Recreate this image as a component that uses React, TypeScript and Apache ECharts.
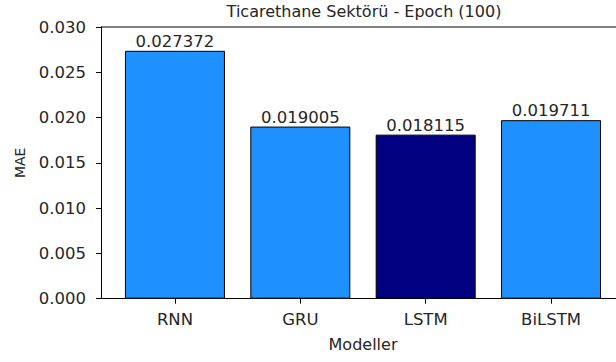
import React, { useEffect, useRef } from "react";
import * as echarts from "echarts";

const categories = ["RNN", "GRU", "LSTM", "BiLSTM"];
const maeValues = [0.027372, 0.019005, 0.018115, 0.019711];
const barColors = ["#1E90FF", "#1E90FF", "#000080", "#1E90FF"];
const yTicks = [0, 0.005, 0.01, 0.015, 0.02, 0.025, 0.03];
const titleText = "Ticarethane Sektörü - Epoch (100)";

const FONT = "DejaVu Sans";
const X_MIN = -0.59;
const X_MAX = 3.59;
const GRID_LEFT = 101;
const GRID_TOP = 27;
const GRID_W = 524;
const GRID_H = 271.7;

export default function App() {
  const ref = useRef<HTMLDivElement>(null);
  useEffect(() => {
    if (!ref.current) return;
    const chart = echarts.init(ref.current, null, { renderer: "svg" });
    chart.setOption({
      animation: false,
      backgroundColor: "#ffffff",
      title: {
        text: titleText,
        left: 359,
        textAlign: "center",
        top: -2,
        textStyle: { fontFamily: FONT, fontSize: 16, fontWeight: "normal", color: "#262626" },
      },
      grid: {
        left: GRID_LEFT,
        top: GRID_TOP,
        width: GRID_W,
        height: GRID_H,
        show: false,
        outerBoundsMode: "none",
        containLabel: false,
      },
      graphic: [
        {
          type: "line",
          shape: { x1: GRID_LEFT, y1: GRID_TOP, x2: GRID_LEFT + GRID_W, y2: GRID_TOP },
          style: { stroke: "#000", lineWidth: 1 },
          z: 10,
        },
      ],
      xAxis: {
        type: "value",
        min: X_MIN,
        max: X_MAX,
        name: "Modeller",
        nameLocation: "middle",
        nameGap: 38,
        nameTextStyle: { fontFamily: FONT, fontSize: 16, color: "#262626" },
        axisLine: { show: true, onZero: false, lineStyle: { color: "#000", width: 1 } },
        axisTick: { show: true, length: 5, lineStyle: { color: "#000", width: 1 }, customValues: [0, 1, 2, 3] },
        axisLabel: {
          customValues: [0, 1, 2, 3],
          formatter: (v: number) => categories[Math.round(v)] ?? "",
          fontFamily: FONT,
          fontSize: 16.5,
          color: "#262626",
          margin: 12,
        },
        splitLine: { show: false },
      },
      yAxis: {
        type: "value",
        min: 0,
        max: yTicks[yTicks.length - 1],
        interval: 0.005,
        name: "MAE",
        nameLocation: "middle",
        nameGap: 74,
        nameTextStyle: { fontFamily: FONT, fontSize: 14, color: "#262626" },
        axisLine: { show: true, onZero: false, lineStyle: { color: "#000", width: 1 } },
        axisTick: { show: true, length: 5, lineStyle: { color: "#000" } },
        axisLabel: {
          formatter: (v: number) => v.toFixed(3),
          fontFamily: FONT,
          fontSize: 16.5,
          color: "#262626",
          margin: 15,
        },
        splitLine: { show: false },
      },
      series: [
        {
          type: "bar",
          barWidth: 100,
          data: maeValues.map((v, i) => ({
            value: [i, v],
            itemStyle: { color: barColors[i], borderColor: "#000", borderWidth: 1 },
          })),
          label: {
            show: true,
            position: "top",
            distance: 1,
            formatter: (p: any) => p.value[1].toFixed(6),
            fontFamily: FONT,
            fontSize: 16.5,
            color: "#262626",
          },
        },
      ],
    });
    return () => chart.dispose();
  }, []);
  return (
    <div
      ref={ref}
      style={{ position: "fixed", left: 0, top: 0, width: 616, height: 362, background: "#fff" }}
    />
  );
}
